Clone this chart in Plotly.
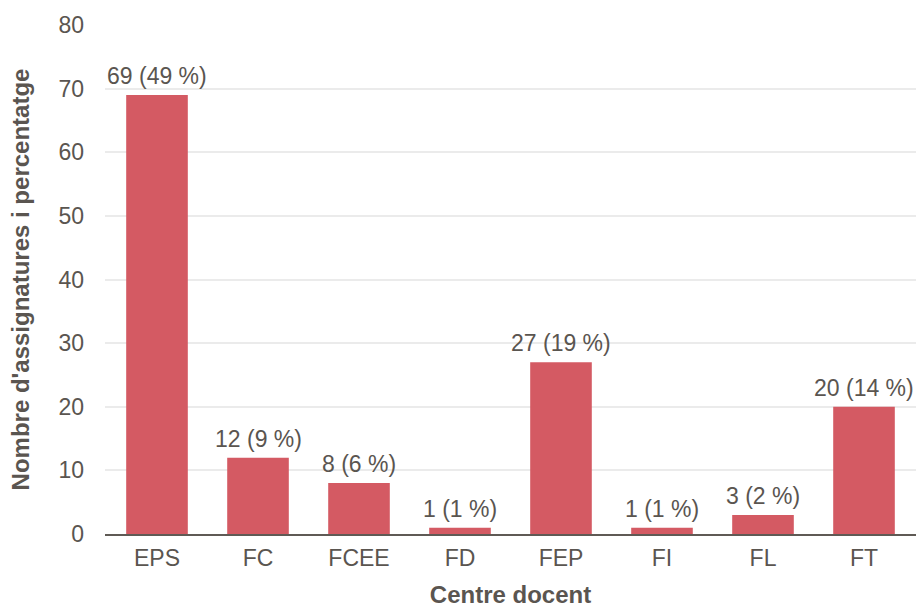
import plotly.graph_objects as go

categories = ["EPS", "FC", "FCEE", "FD", "FEP", "FI", "FL", "FT"]
counts = [69, 12, 8, 1, 27, 1, 3, 20]
percents = [49, 9, 6, 1, 19, 1, 2, 14]
y_ticks = [0, 10, 20, 30, 40, 50, 60, 70, 80]

labels = [f"{c} ({p} %)" for c, p in zip(counts, percents)]

TEXT = "#5a5550"
FONT = "Liberation Sans, Arial, Helvetica, sans-serif"
FS = 23
TFS = 24

fig = go.Figure()
fig.add_trace(go.Bar(
    x=categories, y=counts,
    marker=dict(color="#d45a63", line=dict(width=0)),
    cliponaxis=False,
    hoverinfo="skip",
))

for c, v, lab in zip(categories, counts, labels):
    fig.add_annotation(
        x=c, y=v, xref="x", yref="y", text=lab, showarrow=False,
        yanchor="bottom", yshift=4,
        font=dict(size=FS, color=TEXT, family=FONT),
    )

fig.update_layout(
    width=917, height=608,
    margin=dict(l=105, r=1, t=25, b=74),
    paper_bgcolor="white", plot_bgcolor="white",
    bargap=0.39,
    showlegend=False,
    font=dict(family=FONT, color=TEXT, size=FS),
    xaxis=dict(
        showgrid=False, showline=True, linecolor="#5f5a55", linewidth=2,
        ticks="", tickfont=dict(size=FS, color=TEXT),
        ticklabelstandoff=2,
        title=dict(text="<b>Centre docent</b>", font=dict(size=TFS, color=TEXT), standoff=24),
        automargin=False,
    ),
    yaxis=dict(
        range=[0, 80], tickvals=y_ticks,
        showgrid=True, gridcolor="#ebebeb", gridwidth=2,
        zeroline=False, showline=False, ticks="",
        tickfont=dict(size=FS, color=TEXT),
        ticklabelstandoff=20,
        title=dict(text="<b>Nombre d'assignatures i percentatge</b>", font=dict(size=TFS, color=TEXT), standoff=22),
        automargin=False,
    ),
)

fig.write_html("out.html")
